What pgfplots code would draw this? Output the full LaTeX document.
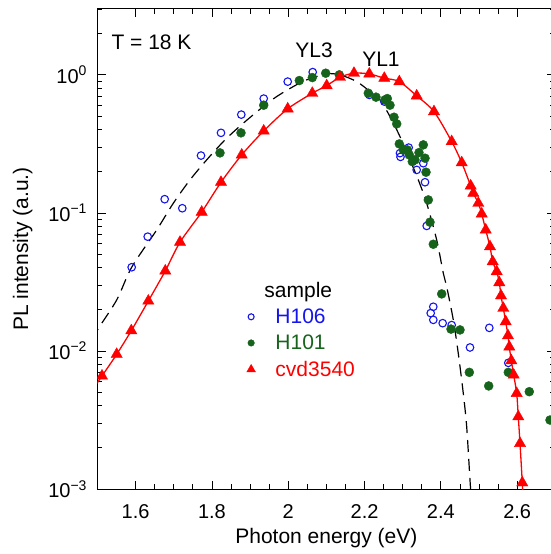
\documentclass[border=0pt]{standalone}
\usepackage{fontspec}
\setmainfont{Liberation Sans}
\usepackage{pgfplots}
\pgfplotsset{compat=1.18}
\definecolor{pgreen}{RGB}{22,100,28}
\definecolor{pblue}{RGB}{20,20,235}
\definecolor{pred}{RGB}{255,0,0}
\begin{document}
\begin{tikzpicture}
\begin{axis}[name=ax, scale only axis, width=457.8pt, height=480pt,
  ymode=log, xmin=1.5, xmax=2.7, ymin=1e-3, ymax=3,
  xtick={1.6,1.8,2.0,2.2,2.4,2.6}, xticklabels={1.6,1.8,2,2.2,2.4,2.6},
  minor x tick num=3,
  ytick={0.001,0.01,0.1,1},
  yticklabels={10\textsuperscript{−3},10\textsuperscript{−2},10\textsuperscript{−1},10\textsuperscript{0}},
  minor ytick={0.002,0.003,0.004,0.005,0.006,0.007,0.008,0.009,0.02,0.03,0.04,0.05,0.06,0.07,0.08,0.09,0.2,0.3,0.4,0.5,0.6,0.7,0.8,0.9,2,3},
  tick align=inside, major tick length=8pt, minor tick length=5pt,
  axis line style={line width=1pt},
  every tick/.style={black, line width=0.8pt},
  ticklabel style={font=\fontsize{20}{24}\selectfont},
  xticklabel style={yshift=-12pt},
  yticklabel style={xshift=-7pt},
  xlabel={Photon energy (eV)}, ylabel={PL intensity (a.u.)},
  xlabel style={yshift=-3pt},
  ylabel style={yshift=9pt},
  label style={font=\fontsize{21}{25}\selectfont},
  clip marker paths=true,
  legend style={at={(axis description cs:0.31,0.44)}, anchor=north west, draw=none, fill=none,
    font=\fontsize{21}{25}\selectfont, row sep=6pt,
    /tikz/every odd column/.append style={column sep=18pt}},
  legend cell align=left,
]
\addlegendimage{empty legend}\addlegendentry{\hspace{-11pt}sample}
% dashed fit
\addplot[forget plot, black, line width=1.2pt, dash pattern=on 12pt off 7pt, smooth] coordinates {
(1.49,0.0120)(1.5,0.0142)(1.5503,0.0234)(1.5896,0.0404)(1.6552,0.0753)(1.6987,0.1175)(1.7425,0.1734)
(1.7862,0.2422)(1.8342,0.3381)(1.8822,0.4467)(1.9346,0.5893)(1.9697,0.6966)(2.0132,0.8226)
(2.0484,0.9204)(2.1008,1.016)(2.1356,1.0)(2.1794,0.894)(2.2143,0.757)(2.2405,0.659)(2.2667,0.499)
(2.2929,0.357)(2.3191,0.242)(2.3409,0.1734)(2.3629,0.1175)(2.3891,0.0637)(2.4064,0.0366)
(2.4153,0.0292)(2.4326,0.0168)(2.4457,0.0096)(2.4588,0.00493)(2.4677,0.00283)(2.4764,0.00116)(2.479,0.00091)
};
% H106
\addplot[only marks, mark=o, mark size=3.8pt, pblue, line width=1.1pt,
  legend image post style={mark size=3pt}] coordinates {
(1.5896,0.0404)(1.6316,0.0673)(1.6761,0.1257)(1.7223,0.1081)(1.7713,0.2602)(1.8237,0.3802)
(1.8769,0.5152)(1.9357,0.6730)(1.9986,0.8933)(2.0641,1.047)(2.2124,0.7161)(2.2518,0.6407)
(2.2929,0.2710)(2.2942,0.2546)(2.3157,0.2973)(2.3367,0.2049)(2.3540,0.2291)(2.3585,0.1668)
(2.3629,0.0805)(2.3802,0.0209)(2.3734,0.0188)(2.3802,0.0168)(2.4048,0.0159)(2.4284,0.0154)
(2.4764,0.0106)(2.5270,0.0147)(2.5768,0.0082)
};
\addlegendentry{\textcolor{pblue}{H106}}
% H101
\addplot[only marks, mark=*, mark size=4.5pt, pgreen, mark options={fill=pgreen, draw=pgreen},
  legend image post style={mark size=3.3pt}] coordinates {
(1.8211,0.2722)(1.8761,0.3802)(1.9357,0.6029)(2.0290,0.9097)(2.0630,0.9560)(2.0982,1.028)
(2.1338,1.0)(2.2098,0.7366)(2.2300,0.6896)(2.2536,0.6591)(2.2596,0.6734)(2.2667,0.6031)
(2.2772,0.4934)(2.2843,0.4416)(2.2911,0.3162)(2.3016,0.2861)(2.3121,0.2861)(2.3173,0.2632)
(2.3252,0.2354)(2.3322,0.2422)(2.3427,0.2735)(2.3540,0.3111)(2.3585,0.2490)(2.3611,0.1972)
(2.3671,0.1242)(2.3716,0.0857)(2.3802,0.0593)(2.4022,0.0259)(2.4266,0.0144)(2.4502,0.0142)
(2.4746,0.0070)(2.5254,0.00558)(2.5768,0.0070)(2.6318,0.00507)(2.6861,0.00316)
};
\addlegendentry{\textcolor{pgreen}{H101}}
% cvd3540 line
\addplot[forget plot, pred, line width=1.3pt, smooth, tension=0.5] coordinates {
(1.4803,0.00491)(1.5118,0.00659)(1.5503,0.00946)(1.5886,0.01403)(1.6332,0.02301)(1.6777,0.03802)
(1.7163,0.06138)(1.7731,0.1014)(1.8237,0.1667)(1.8780,0.2630)(1.9357,0.3926)(1.9986,0.5675)
(2.0630,0.7362)(2.1008,0.8356)(2.1356,0.9616)(2.1723,1.028)(2.2124,1.016)(2.2518,0.9462)
(2.2911,0.8933)(2.3367,0.7047)(2.3820,0.5420)(2.4284,0.3289)(2.4547,0.2312)(2.4782,0.1570)
(2.4851,0.1390)(2.4982,0.1175)(2.5071,0.0984)(2.5176,0.0753)(2.5288,0.0570)(2.5359,0.0444)
(2.5464,0.0376)(2.5532,0.0313)(2.5577,0.0251)(2.5637,0.0204)(2.5700,0.0163)(2.5760,0.0129)
(2.5794,0.0107)(2.5847,0.00851)(2.5909,0.00670)(2.5988,0.00493)(2.6030,0.00334)(2.6075,0.00214)
(2.6135,0.00111)(2.616,0.00079)
};
% cvd3540 marks
\addplot[only marks, mark=triangle*, mark size=6.5pt, pred, mark options={fill=pred, draw=pred},
  legend image post style={mark size=5pt}] coordinates {
(1.5118,0.00659)(1.5503,0.00946)(1.5886,0.01403)(1.6332,0.02301)(1.6777,0.03802)
(1.7163,0.06138)(1.7731,0.1014)(1.8237,0.1667)(1.8780,0.2630)(1.9357,0.3926)(1.9986,0.5675)
(2.0630,0.7362)(2.1008,0.8356)(2.1356,0.9616)(2.1723,1.028)(2.2124,1.016)(2.2518,0.9462)
(2.2911,0.8933)(2.3367,0.7047)(2.3820,0.5420)(2.4284,0.3289)(2.4547,0.2312)(2.4782,0.1570)
(2.4851,0.1390)(2.4982,0.1175)(2.5071,0.0984)(2.5176,0.0753)(2.5288,0.0570)(2.5359,0.0444)
(2.5464,0.0376)(2.5532,0.0313)(2.5577,0.0251)(2.5637,0.0204)(2.5700,0.0163)(2.5760,0.0129)
(2.5794,0.0107)(2.5847,0.00851)(2.5909,0.00670)(2.5988,0.00493)(2.6030,0.00334)(2.6075,0.00214)
(2.6135,0.00111)
};
\addlegendentry{\textcolor{pred}{cvd3540}}
\node[anchor=west, font=\fontsize{21}{25}\selectfont] at (axis cs:1.5275,1.71) {T = 18 K};
\node[font=\fontsize{21}{25}\selectfont] at (axis cs:2.0675,1.50) {YL3};
\node[font=\fontsize{21}{25}\selectfont] at (axis cs:2.243,1.30) {YL1};
\end{axis}
\pgfresetboundingbox
\path[use as bounding box] ([shift={(-97.5pt,-65pt)}]ax.south west) rectangle ([shift={(452.5pt,9pt)}]ax.north west);
\end{tikzpicture}
\end{document}
